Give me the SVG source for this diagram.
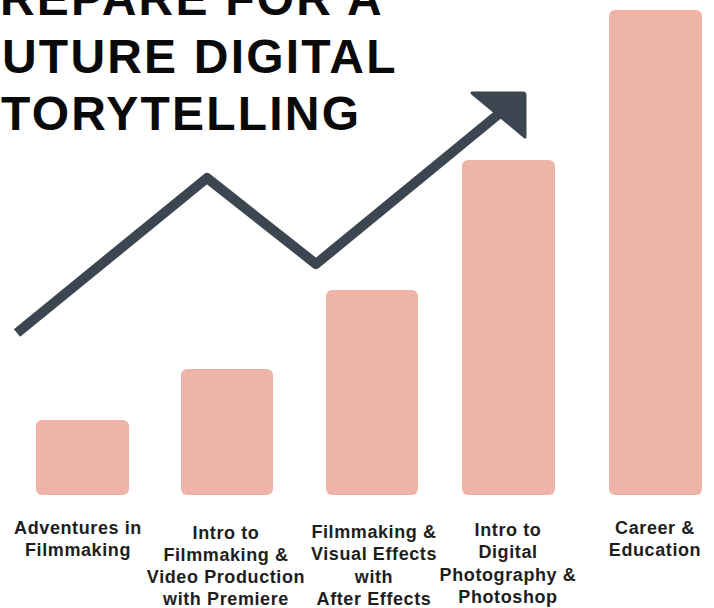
<svg xmlns="http://www.w3.org/2000/svg" width="714" height="608" viewBox="0 0 714 608">
<style>
.bar{fill:#EEB4A8}
.title{font-family:"Liberation Sans",Arial,sans-serif;font-weight:bold;font-size:48px;letter-spacing:2.2px;fill:#0a0a0a}
.lbl{font-family:"Liberation Sans",Arial,sans-serif;font-weight:bold;font-size:18px;letter-spacing:0.6px;fill:#1e1e1e;text-anchor:middle}
.trend{fill:none;stroke:#3C4650;stroke-width:10;stroke-linejoin:round;stroke-linecap:butt}
</style>
<rect width="714" height="608" fill="#ffffff"/>
<g id="title">
<text class="title" x="0" y="15">REPARE FOR A</text>
<text class="title" x="2" y="73">UTURE DIGITAL</text>
<text class="title" x="1" y="130">TORYTELLING</text>
</g>
<g id="bar1"><rect class="bar" x="36" y="420" width="93" height="75" rx="6"/></g>
<g id="bar2"><rect class="bar" x="181" y="369" width="92" height="126" rx="6"/></g>
<g id="bar3"><rect class="bar" x="326" y="290" width="92" height="205" rx="6"/></g>
<g id="bar4"><rect class="bar" x="462" y="160" width="93" height="335" rx="6"/></g>
<g id="bar5"><rect class="bar" x="609" y="10" width="93" height="485" rx="6"/></g>
<g id="connectors">
<polyline class="trend" points="17,333 207,178 316,264 500,113"/>
<path d="M472,93 L523,93 Q525,93 525,95 L525,137 Z" fill="#3C4650" stroke="#3C4650" stroke-width="3" stroke-linejoin="round"/>
</g>
<g id="label1">
<text class="lbl" x="78" y="534">Adventures in</text>
<text class="lbl" x="78" y="556">Filmmaking</text>
</g>
<g id="label2">
<text class="lbl" x="226" y="539">Intro to</text>
<text class="lbl" x="226" y="561">Filmmaking &amp;</text>
<text class="lbl" x="226" y="583">Video Production</text>
<text class="lbl" x="226" y="605">with Premiere</text>
</g>
<g id="label3">
<text class="lbl" x="374" y="538">Filmmaking &amp;</text>
<text class="lbl" x="374" y="560">Visual Effects</text>
<text class="lbl" x="374" y="583">with</text>
<text class="lbl" x="374" y="605">After Effects</text>
</g>
<g id="label4">
<text class="lbl" x="508" y="536">Intro to</text>
<text class="lbl" x="508" y="558">Digital</text>
<text class="lbl" x="508" y="581">Photography &amp;</text>
<text class="lbl" x="508" y="603">Photoshop</text>
</g>
<g id="label5">
<text class="lbl" x="655" y="534">Career &amp;</text>
<text class="lbl" x="655" y="556">Education</text>
</g>
</svg>
